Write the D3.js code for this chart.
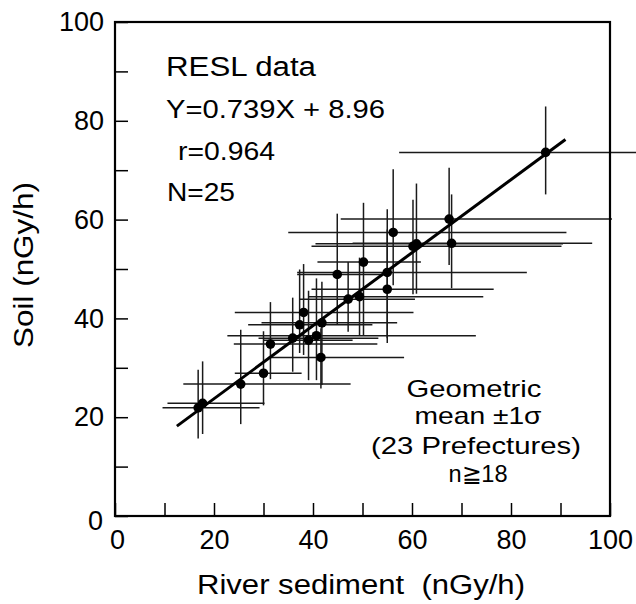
<!DOCTYPE html>
<html><head><meta charset="utf-8">
<script src="https://cdn.jsdelivr.net/npm/d3@7/dist/d3.min.js"></script>
<style>body{margin:0;background:#fff}svg{display:block}text{font-family:"Liberation Sans",Arial,sans-serif;fill:#000;white-space:pre}</style>
</head><body><svg id="c" width="636" height="604"></svg>
<script>
// River sediment (x) and soil (y) geometric means, nGy/h
const sediment = [87.0,67.5,68.0,56.2,60.2,60.9,50.2,44.9,55.0,55.0,49.4,47.1,38.1,37.3,41.8,40.7,39.1,35.9,31.4,41.6,30.0,25.4,17.7,16.8];
const soil     = [73.6,60.1,55.2,57.4,54.6,55.1,51.4,48.9,49.3,45.9,44.4,43.9,41.2,38.7,39.1,36.5,35.6,36.0,34.8,32.1,28.9,26.7,22.8,21.9];
// -1 sigma / +1 sigma bounds
const sedLow   = [57.4,45.6,48.0,35.0,39.7,40.5,40.9,36.8,36.8,39.7,39.0,37.2,24.2,26.9,29.6,22.7,30.0,29.0,24.0,31.0,24.2,13.8,10.6,9.6];
const sedHigh  = [108,100.4,96.4,91.2,90.2,90.5,61.8,54.2,83.2,76.5,74.4,60.6,60.3,52.0,57.0,72.9,48.0,53.2,53.0,58.4,37.7,47.6,30.2,29.2];
const soilLow  = [65.1,50.8,46.1,46.7,44.9,45.0,36.6,38.7,36.0,35.0,36.6,37.3,32.6,33.0,26.5,27.5,27.5,29.2,27.7,25.8,22.4,18.6,16.6,15.7];
const soilHigh = [82.9,70.5,65.1,70.2,64.0,67.3,63.4,61.2,62.1,58.0,52.3,51.4,51.0,49.9,47.4,48.1,45.6,44.2,43.3,38.0,37.4,37.7,31.3,29.6];
// regression Y = 0.739X + 8.96 drawn over this X range
const fitSlope = 0.739, fitIntercept = 8.96, fitRange = [12.5, 91];
const tickValues = [0,10,20,30,40,50,60,70,80,90,100];
const labelValues = [0,20,40,60,80,100];

const svg = d3.select("#c");
const x = d3.scaleLinear([0,100],[115,610]);
const y = d3.scaleLinear([0,100],[516,22]);
const pts = sediment.map((s,i)=>({x:s,y:soil[i],xl:sedLow[i],xh:sedHigh[i],yl:soilLow[i],yh:soilHigh[i]}));

// error bars
const eb = svg.append("g").attr("stroke","#1a1a1a").attr("stroke-width",1.5);
eb.selectAll("line.h").data(pts).join("line").attr("class","h")
  .attr("x1",d=>x(d.xl)).attr("x2",d=>x(d.xh)).attr("y1",d=>y(d.y)).attr("y2",d=>y(d.y));
eb.selectAll("line.v").data(pts).join("line").attr("class","v")
  .attr("x1",d=>x(d.x)).attr("x2",d=>x(d.x)).attr("y1",d=>y(d.yl)).attr("y2",d=>y(d.yh));

// axes
const fmt = d => labelValues.includes(d) ? d : "";
const ax = svg.append("g").attr("transform","translate(0,516)")
  .call(d3.axisBottom(x).tickValues(tickValues).tickSize(-13).tickPadding(14).tickFormat(fmt));
const ay = svg.append("g").attr("transform","translate(115,0)")
  .call(d3.axisLeft(y).tickValues(tickValues).tickSize(-13).tickPadding(11).tickFormat(fmt));
[ax,ay].forEach(g=>{
  g.select(".domain").remove();
  g.selectAll(".tick line").attr("stroke","#000").attr("stroke-width",1.5);
  g.selectAll(".tick text").attr("font-size",27).attr("font-family","Liberation Sans, Arial, sans-serif").attr("fill","#000");
});
ax.selectAll(".tick text").filter(d=>d===0).attr("dx",2);
ay.selectAll(".tick text").filter(d=>d===0).attr("dx",-1).attr("dy","0.5em");

// frame
svg.append("rect").attr("x",x(0)).attr("y",y(100)).attr("width",x(100)-x(0)).attr("height",y(0)-y(100))
  .attr("fill","none").attr("stroke","#000").attr("stroke-width",2.2);

// regression line
svg.append("line").attr("x1",x(fitRange[0])).attr("y1",y(fitIntercept+fitSlope*fitRange[0]))
  .attr("x2",x(fitRange[1])).attr("y2",y(fitIntercept+fitSlope*fitRange[1]))
  .attr("stroke","#000").attr("stroke-width",3);

// points
svg.append("g").selectAll("circle").data(pts).join("circle")
  .attr("cx",d=>x(d.x)).attr("cy",d=>y(d.y)).attr("r",4.8).attr("fill","#000");

// texts
function txt(s,xp,yp,size,len,anchor){
  const t = svg.append("text").attr("x",xp).attr("y",yp).attr("font-size",size).text(s);
  if(anchor) t.attr("text-anchor",anchor);
  if(len) t.attr("textLength",len).attr("lengthAdjust","spacingAndGlyphs");
  return t;
}
txt("RESL data",166,76,27,150);
txt("Y=0.739X + 8.96",166,118,25,219);
txt("r=0.964",178,160,25,97);
txt("N=25",167,201,25,68);
txt("Geometric",474,397,24,135,"middle");
txt("mean ±1σ",478,424,24,127,"middle");
txt("(23 Prefectures)",476,454,24,210,"middle");
txt("n≧18",478,482,24,59,"middle");
txt("River sediment  (nGy/h)",361,594,27,328,"middle");
svg.append("text").attr("transform","translate(33,265) rotate(-90)").attr("text-anchor","middle")
  .attr("font-size",27).attr("textLength",166).attr("lengthAdjust","spacingAndGlyphs").text("Soil (nGy/h)");
</script></body></html>
